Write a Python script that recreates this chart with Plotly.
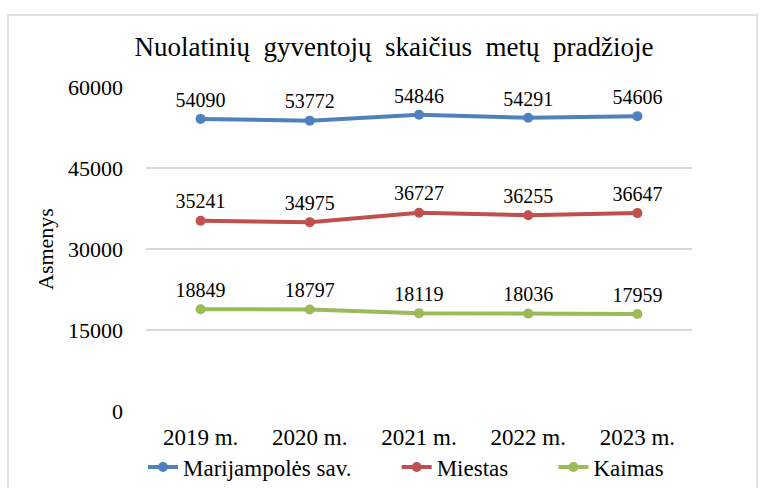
import plotly.graph_objects as go

years = ["2019 m.", "2020 m.", "2021 m.", "2022 m.", "2023 m."]
marijampole = [54090, 53772, 54846, 54291, 54606]
miestas = [35241, 34975, 36727, 36255, 36647]
kaimas = [18849, 18797, 18119, 18036, 17959]

series = [
    ("Marijampolės sav.", marijampole, "#4F81BD"),
    ("Miestas", miestas, "#C0504D"),
    ("Kaimas", kaimas, "#9BBB59"),
]

FONT = "Liberation Serif"
PAD = "\u00a0" * 7

fig = go.Figure()
for i, (name, vals, color) in enumerate(series):
    fig.add_trace(go.Scatter(
        x=years, y=vals, name=name + (PAD if i < len(series) - 1 else ""),
        mode="lines+markers+text",
        line=dict(color=color, width=4),
        marker=dict(color=color, size=10),
        text=[str(v) for v in vals],
        textposition="top center",
        textfont=dict(family=FONT, size=20, color="#000000"),
        cliponaxis=False,
    ))

fig.update_layout(
    width=763, height=488,
    margin=dict(l=146, r=71, t=87, b=77, autoexpand=False),
    paper_bgcolor="white", plot_bgcolor="white",
    font=dict(family=FONT, color="#000000"),
    title=dict(text="Nuolatinių  gyventojų  skaičius  metų  pradžioje",
               x=394 / 763, xanchor="center", xref="container",
               y=1 - 47 / 488, yanchor="middle", yref="container",
               font=dict(family=FONT, size=27, color="#000000")),
    showlegend=True,
    legend=dict(orientation="h", x=406 / 763, xanchor="center",
                y=1 - 467 / 488, yanchor="middle",
                xref="container", yref="container",
                font=dict(family=FONT, size=23, color="#000000"),
                itemwidth=30, tracegroupgap=0, bgcolor="rgba(0,0,0,0)"),
    xaxis=dict(type="category", range=[-0.5, 4.5],
               showgrid=False, showline=False, zeroline=False, ticks="",
               automargin=False,
               tickfont=dict(family=FONT, size=23, color="#000000"),
               ticklabelstandoff=10),
    yaxis=dict(range=[0, 60000], tickvals=[0, 15000, 30000, 45000, 60000],
               ticktext=["0", "15000", "30000", "45000", "60000"],
               automargin=False,
               showgrid=True, gridcolor="#D9D9D9", gridwidth=1.5,
               zeroline=False, showline=False, ticks="",
               tickfont=dict(family=FONT, size=22, color="#000000"),
               ticklabelstandoff=22,
               title=dict(text="Asmenys", standoff=8,
                          font=dict(family=FONT, size=22, color="#000000"))),
    shapes=[dict(type="rect", xref="paper", yref="paper",
                 x0=(8 - 146) / 546, x1=(757 - 146) / 546,
                 y0=(411 - 495) / 324, y1=(411 - 15) / 324,
                 line=dict(color="#D9D9D9", width=1.5), layer="below")],
)

fig.write_html("out.html", config={"displayModeBar": False},
               post_script="document.body.style.margin='0';")
